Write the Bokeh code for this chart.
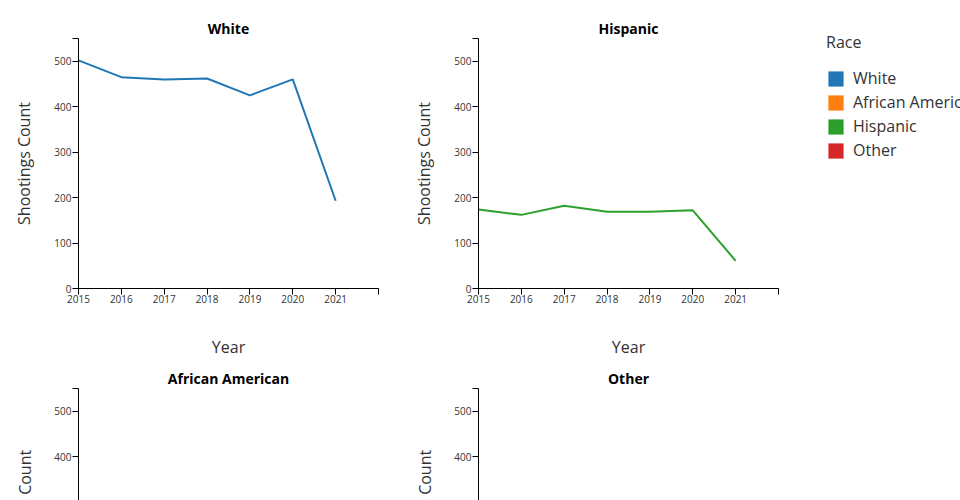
import math
from bokeh.plotting import figure
from bokeh.models import Range1d, FixedTicker, Legend, LegendItem, Label
from bokeh.layouts import row, column
from bokeh.embed import file_html
from bokeh.resources import INLINE

# ---- data ----
years = [2015, 2016, 2017, 2018, 2019, 2020, 2021]
white = [502, 465, 460, 462, 425, 460, 193]
african_american = [258, 234, 224, 229, 250, 243, 91]
hispanic = [174, 162, 182, 169, 169, 172, 61]
other = [56, 52, 58, 45, 55, 60, 25]
races = ["White", "African American", "Hispanic", "Other"]
colors = ["#1f77b4", "#ff7f0e", "#2ca02c", "#d62728"]
y_ticks = [0, 100, 200, 300, 400, 500]
x_end = 2022
y_end = 550
y_title = "Shootings Count"
x_title = "Year"
legend_title = "Race"

FONT = "Open Sans"
TXT = "#333333"
FW, FH = 300, 250      # full panel frame
TOP_B, BOTTOM_B = 38, 77
TOP_ROW_H = TOP_B + FH + BOTTOM_B
BOT_H = 500 - TOP_ROW_H  # visible height of lower panels (rest lies below the window)
BOT_TOP = 23
LAB_W = 40             # strip that carries the y title of lower panels
YLAB_DIST = 54         # distance of y title centre from the frame


def style(p):
    for ax in p.xaxis + p.yaxis:
        ax.axis_line_color = "black"
        ax.major_tick_line_color = "black"
        ax.major_tick_out = 6
        ax.major_tick_in = 0
        ax.minor_tick_line_color = None
        ax.major_label_text_font = FONT
        ax.major_label_text_font_size = "10px"
        ax.major_label_text_color = TXT
        ax.axis_label_text_font = FONT
        ax.axis_label_text_font_size = "16px"
        ax.axis_label_text_font_style = "normal"
        ax.axis_label_text_color = TXT
    p.grid.visible = False
    p.outline_line_color = None
    p.title.align = "center"
    p.title.text_font = FONT
    p.title.text_font_size = "14px"
    p.title.text_font_style = "bold"
    p.title.text_color = "black"
    p.title.standoff = 2
    p.yaxis.ticker = FixedTicker(ticks=y_ticks + [y_end])
    p.yaxis.major_label_overrides = {y_end: ""}
    p.yaxis.major_label_standoff = 1


def full_panel(name, values, color, left_border, right_border):
    p = figure(title=name, frame_width=FW, frame_height=FH,
               min_border_left=left_border, min_border_right=right_border,
               min_border_top=TOP_B, min_border_bottom=BOTTOM_B,
               x_range=Range1d(years[0], x_end), y_range=Range1d(0, y_end),
               toolbar_location=None, output_backend="svg")
    p.line(years, values, line_color=color, line_width=2)
    style(p)
    p.xaxis.ticker = FixedTicker(ticks=years + [x_end])
    p.xaxis.major_label_overrides = {x_end: ""}
    p.xaxis.major_label_standoff = 0
    p.xaxis.axis_label = x_title
    p.xaxis.axis_label_standoff = 30
    p.yaxis.axis_label = y_title
    p.yaxis.axis_label_standoff = 16
    return p


def cut_panel(name, values, color, left_border, right_border):
    fh = BOT_H - BOT_TOP
    lo = y_end - fh * y_end / FH
    p = figure(title=name, frame_width=FW, frame_height=fh,
               min_border_left=left_border, min_border_right=right_border,
               min_border_top=BOT_TOP, min_border_bottom=0,
               x_range=Range1d(years[0], x_end), y_range=Range1d(lo, y_end),
               x_axis_location=None, toolbar_location=None, output_backend="svg")
    p.line(years, values, line_color=color, line_width=2)
    style(p)
    return p


def label_strip(panel_left_border):
    s = figure(width=LAB_W, height=BOT_H, x_range=Range1d(0, LAB_W), y_range=Range1d(0, BOT_H),
               x_axis_location=None, y_axis_location=None,
               min_border_left=0, min_border_right=0, min_border_top=0, min_border_bottom=0,
               toolbar_location=None, output_backend="svg")
    s.grid.visible = False
    s.outline_line_color = None
    s.add_layout(Label(x=LAB_W + panel_left_border - YLAB_DIST,
                       y=BOT_H - (BOT_TOP + FH / 2),
                       text=y_title, angle=math.pi / 2,
                       text_align="center", text_baseline="middle",
                       text_font=FONT, text_font_size="16px", text_color=TXT))
    return s


series = dict(zip(races, [white, african_american, hispanic, other]))
cmap = dict(zip(races, colors))

p_white = full_panel("White", series["White"], cmap["White"], 78, 30)
p_hisp = full_panel("Hispanic", series["Hispanic"], cmap["Hispanic"], 70, 17)
p_aa = cut_panel("African American", series["African American"], cmap["African American"], 78 - LAB_W, 30)
p_other = cut_panel("Other", series["Other"], cmap["Other"], 70 - LAB_W, 17)
s_aa = label_strip(78 - LAB_W)
s_other = label_strip(70 - LAB_W)

# ---- legend panel ----
lg = figure(width=165, height=TOP_ROW_H, toolbar_location=None, output_backend="svg",
            x_axis_location=None, y_axis_location=None,
            x_range=Range1d(0, 1), y_range=Range1d(0, 1),
            min_border_left=0, min_border_right=0, min_border_top=0, min_border_bottom=0)
lg.grid.visible = False
lg.outline_line_color = None
nan = float("nan")
items = []
for r_name, c in zip(races, colors):
    r = lg.quad(left=[nan], right=[nan], top=[nan], bottom=[nan], fill_color=c, line_color=None)
    items.append(LegendItem(label=r_name, renderers=[r]))
legend = Legend(items=items, location="top_left", margin=31, padding=0,
                title=legend_title, title_text_font=FONT, title_text_font_size="16px",
                title_text_font_style="normal", title_text_color=TXT, title_standoff=14,
                label_text_font=FONT, label_text_font_size="16px", label_text_color=TXT,
                glyph_width=19, glyph_height=19, label_height=20, spacing=2,
                label_standoff=8, border_line_color=None, background_fill_alpha=0)
lg.add_layout(legend)

layout = row(column(p_white, row(s_aa, p_aa)),
             column(p_hisp, row(s_other, p_other)),
             lg)

open("out.html", "w").write(file_html(layout, INLINE))
